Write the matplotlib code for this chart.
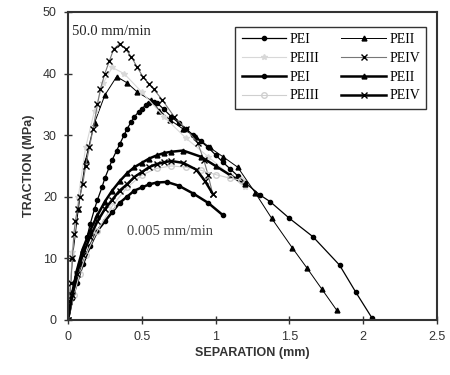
import numpy as np
import matplotlib
matplotlib.use("Agg")
import matplotlib.pyplot as plt
from matplotlib.lines import Line2D

# 50.0 mm/min curves (thin lines)
f_pei_x = [0, 0.03, 0.05, 0.08, 0.1, 0.13, 0.15, 0.18, 0.2, 0.23, 0.25, 0.28, 0.3, 0.33, 0.35,
           0.38, 0.4, 0.43, 0.45, 0.48, 0.5, 0.53, 0.55, 0.58, 0.6, 0.65,
           0.7, 0.75, 0.8, 0.85, 0.9, 0.95, 1.0, 1.05, 1.1, 1.15, 1.2, 1.3, 1.37, 1.5, 1.66, 1.84, 1.95, 2.06]
f_pei_y = [0, 3.5, 6, 9, 11, 13.5, 15.5, 18, 19.5, 21.5, 23, 24.8, 26, 27.5, 28.5,
           30, 31, 32.2, 33, 33.8, 34.3, 34.9, 35.2, 35.4, 35.3, 34.2,
           33, 32, 31, 30, 29, 28, 26.8, 25.6, 24.5, 23.4, 22.3, 20.3, 19.2, 16.5, 13.5, 8.9, 4.5, 0.3]
f_peii_x = [0, 0.03, 0.07, 0.12, 0.18, 0.25, 0.33, 0.4, 0.47, 0.56, 0.62, 0.69, 0.78, 0.87,
            0.96, 1.05, 1.15, 1.27, 1.38, 1.52, 1.62, 1.72, 1.82]
f_peii_y = [0, 10, 18, 26, 32, 36.5, 39.5, 38.5, 37, 35.7, 34, 32.5, 31, 29.7,
            28, 26.5, 24.8, 20.6, 16.5, 11.7, 8.4, 5, 1.6]
f_peiii_x = [0, 0.03, 0.07, 0.12, 0.18, 0.24, 0.3, 0.38, 0.5, 0.65, 0.8, 0.95, 1.1, 1.2]
f_peiii_y = [0, 11, 20, 28, 34, 38.5, 41, 40, 37, 33, 29.5, 26.5, 23.5, 21.5]
f_peiv_x = [0, 0.01, 0.02, 0.03, 0.04, 0.05, 0.065, 0.08, 0.1, 0.12, 0.145, 0.17, 0.2, 0.22, 0.25,
            0.28, 0.31, 0.35, 0.39, 0.43, 0.47, 0.51, 0.55, 0.58, 0.64, 0.72, 0.8, 0.88, 0.92, 0.95, 0.98]
f_peiv_y = [0, 3, 6, 10, 14, 16, 18, 20, 22, 25, 28, 31, 35, 37.5, 40,
            42, 44, 44.8, 44, 42.7, 41, 39.4, 38.3, 37.5, 35.7, 33, 31, 28.7, 26, 23.5, 20.5]

# 0.005 mm/min curves (thick lines)
s_pei_x = [0, 0.03, 0.06, 0.1, 0.15, 0.2, 0.25, 0.3, 0.35, 0.4, 0.45, 0.5, 0.55, 0.6, 0.67,
           0.75, 0.85, 0.95, 1.05]
s_pei_y = [0, 3.5, 6, 9, 12, 14.5, 16, 17.5, 19, 20, 21, 21.5, 22, 22.3, 22.4,
           21.8, 20.5, 19, 17]
s_peii_x = [0, 0.03, 0.06, 0.1, 0.15, 0.2, 0.25, 0.3, 0.35, 0.4, 0.45, 0.5, 0.55, 0.6, 0.65, 0.7,
            0.78, 0.9, 1.0, 1.1, 1.2]
s_peii_y = [0, 4.5, 8, 11.5, 14.5, 17, 19.2, 21, 22.5, 23.8, 24.8, 25.5, 26.2, 26.7, 27.1, 27.3,
            27.5, 26.5, 25, 23.5, 22]
s_peiii_x = [0, 0.04, 0.08, 0.12, 0.2, 0.3, 0.4, 0.5, 0.6, 0.7, 0.8, 0.9, 1.0, 1.1, 1.17]
s_peiii_y = [0, 4, 7.5, 10.5, 14.5, 18.5, 21.5, 23.5, 24.6, 25, 24.8, 24.3, 23.6, 23, 22.7]
s_peiv_x = [0, 0.03, 0.06, 0.1, 0.15, 0.2, 0.25, 0.3, 0.35, 0.4, 0.45, 0.5, 0.55, 0.6, 0.65, 0.7,
            0.78, 0.87, 0.93, 0.98]
s_peiv_y = [0, 4, 7.5, 10.5, 13.5, 16, 18, 19.5, 21, 22, 23.2, 24, 24.8, 25.3, 25.6, 25.8,
            25.5, 24.4, 22.5, 20.5]

plt.rcParams['font.family'] = ['Liberation Sans', 'DejaVu Sans']

fig = plt.figure(figsize=(4.5, 3.75), dpi=100)
ax = fig.add_axes([0.151, 0.147, 0.82, 0.821])

# (label, x, y, color, lw, marker, ms, mfc)
series = [
    ('PEI', f_pei_x, f_pei_y, 'black', 0.9, 'o', 3, 'black'),
    ('PEII', f_peii_x, f_peii_y, 'black', 0.7, '^', 3.5, 'black'),
    ('PEIII', f_peiii_x, f_peiii_y, '#d8d8d8', 0.8, '*', 4, '#d8d8d8'),
    ('PEIV', f_peiv_x, f_peiv_y, '#777777', 0.8, 'x', 5, 'black'),
    ('PEI', s_pei_x, s_pei_y, 'black', 1.8, 'o', 3, 'black'),
    ('PEII', s_peii_x, s_peii_y, 'black', 1.8, '^', 3.5, 'black'),
    ('PEIII', s_peiii_x, s_peiii_y, '#cfcfcf', 0.8, 'o', 4, 'none'),
    ('PEIV', s_peiv_x, s_peiv_y, 'black', 1.8, 'x', 4.5, 'black'),
]

handles = []
for lab, xs, ys, c, lw, m, ms, mfc in series:
    mec = c if mfc != 'black' else 'black'
    ax.plot(xs, ys, color=c, lw=lw, marker=m, ms=ms, mfc=mfc, mec=mec, mew=1.0)
    handles.append(Line2D([], [], color=c, lw=lw, marker=m, ms=ms, mfc=mfc,
                          mec=mec, mew=1.0, label=lab))

order = [0, 2, 4, 6, 1, 3, 5, 7]
leg = ax.legend([handles[i] for i in order], [handles[i].get_label() for i in order],
                ncol=2, loc='upper right', bbox_to_anchor=(0.99, 0.975),
                prop={'family': 'Liberation Serif', 'size': 10}, fancybox=False,
                edgecolor='#333333', framealpha=1, handlelength=3.2,
                columnspacing=1.6, labelspacing=0.42, borderpad=0.45,
                handletextpad=0.25)
leg.get_frame().set_linewidth(1.0)

ax.text(0.03, 46.8, '50.0 mm/min', family='Liberation Serif', fontsize=10.5,
        color='#222222', va='center')
ax.text(0.4, 14.3, '0.005 mm/min', family='Liberation Serif', fontsize=10.5,
        color='#444444', va='center')

ax.set_xlim(0, 2.5)
ax.set_ylim(0, 50)
ax.set_xticks([0, 0.5, 1, 1.5, 2, 2.5])
ax.set_xticklabels(['0', '0.5', '1', '1.5', '2', '2.5'])
ax.set_yticks([0, 10, 20, 30, 40, 50])
ax.tick_params(direction='inout', length=6, width=1, labelsize=9, colors='#333333', pad=5)
for s in ax.spines.values():
    s.set_linewidth(1.5)
    s.set_color('#333333')

ax.set_xlabel('SEPARATION (mm)', fontsize=9, fontweight='bold', color='#333333', labelpad=3)
ax.set_ylabel('TRACTION (MPa)', fontsize=9, fontweight='bold', color='#333333', labelpad=6)

fig.savefig('out.png', dpi=100)
